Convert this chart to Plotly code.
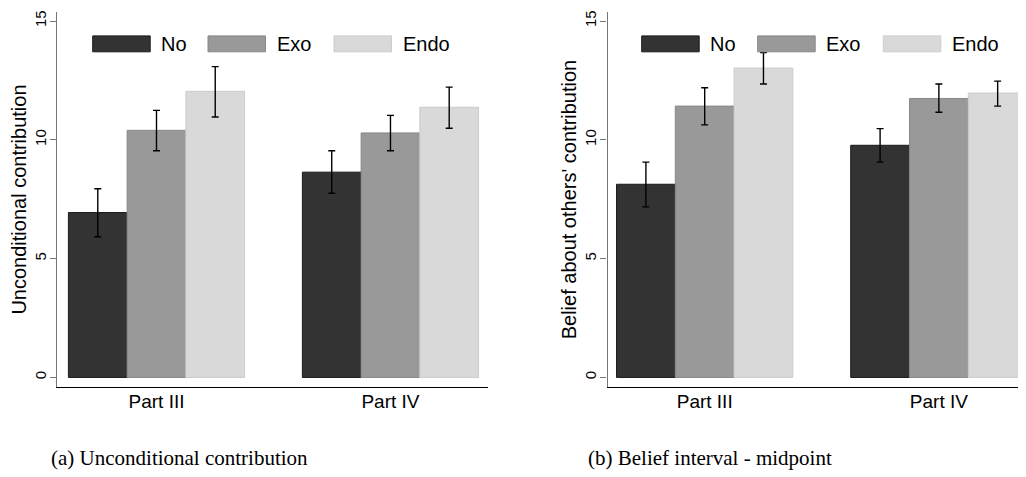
import plotly.graph_objects as go

# The page body has an 8px margin; the figure fills the rest of the window.
OX, OY = 8, 8
W, H = 1026 - OX, 477 - OY

parts = ["Part III", "Part IV"]
series = ["No", "Exo", "Endo"]

# Panel (a): Unconditional contribution
uncond_mean = {"No": [6.94, 8.64], "Exo": [10.40, 10.29], "Endo": [12.04, 11.37]}
uncond_hi = {"No": [7.94, 9.54], "Exo": [11.24, 11.03], "Endo": [13.08, 12.22]}
uncond_lo = {"No": [5.92, 7.75], "Exo": [9.54, 9.54], "Endo": [10.96, 10.49]}

# Panel (b): Belief about others' contribution
belief_mean = {"No": [8.13, 9.77], "Exo": [11.42, 11.74], "Endo": [13.02, 11.97]}
belief_hi = {"No": [9.06, 10.47], "Exo": [12.19, 12.35], "Endo": [13.67, 12.47]}
belief_lo = {"No": [7.18, 9.06], "Exo": [10.63, 11.16], "Endo": [12.35, 11.42]}

yticks = [0, 5, 10, 15]
captions = ["(a) Unconditional contribution", "(b) Belief interval - midpoint"]
ytitles = ["Unconditional contribution", "Belief about others' contribution"]

fills = {"No": "#333333", "Exo": "#999999", "Endo": "#d9d9d9"}
edges = {"No": "#1a1a1a", "Exo": "#888888", "Endo": "#cccccc"}

def px(x):
    return (x - OX) / W

def py(y):
    return 1 - (y - OY) / H

fig = go.Figure()
xpos = list(range(len(parts)))

for idx, (mean, hi, lo) in enumerate([(uncond_mean, uncond_hi, uncond_lo),
                                      (belief_mean, belief_hi, belief_lo)]):
    xa = "x" if idx == 0 else "x2"
    ya = "y" if idx == 0 else "y2"
    for s in series:
        fig.add_trace(go.Bar(
            x=xpos, y=mean[s], name=s, xaxis=xa, yaxis=ya,
            offsetgroup=s,
            marker=dict(color=fills[s], line=dict(color=edges[s], width=1)),
            error_y=dict(type="data", symmetric=False,
                         array=[h - m for h, m in zip(hi[s], mean[s])],
                         arrayminus=[m - l for m, l in zip(mean[s], lo[s])],
                         color="black", thickness=1.4, width=3.5),
            showlegend=False,
        ))

font_sans = "Liberation Sans, Arial, sans-serif"

axis_common_y = dict(
    range=[-0.406, 15.38], tickvals=yticks, ticks="outside", ticklen=6,
    tickcolor="#777777", tickwidth=1, showline=True, linecolor="#777777",
    linewidth=1.3, showgrid=False, zeroline=False, tickangle=-90,
    ticklabelstandoff=-2,
    tickfont=dict(family=font_sans, size=15, color="black"),
    domain=[py(386.7), py(10)],
)
axis_common_x = dict(
    tickvals=xpos, ticktext=parts, ticks="", showline=True, linecolor="black",
    linewidth=1.3, showgrid=False, zeroline=False, ticklabelstandoff=-3,
    tickfont=dict(family=font_sans, size=19, color="black"),
)

fig.update_layout(
    width=W, height=H, autosize=False,
    margin=dict(l=0, r=0, t=0, b=0),
    paper_bgcolor="white", plot_bgcolor="white",
    barmode="group", bargap=0.247, bargroupgap=0,
    font=dict(family=font_sans, color="black"),
    xaxis=dict(axis_common_x, domain=[px(57.3), px(487.8)], range=[-0.424, 1.416], anchor="y"),
    xaxis2=dict(axis_common_x, domain=[px(607.5), 1.0], range=[-0.415, 1.372], anchor="y2"),
    yaxis=dict(axis_common_y, anchor="x",
               title=dict(text=ytitles[0], font=dict(family=font_sans, size=20), standoff=0)),
    yaxis2=dict(axis_common_y, anchor="x2",
                title=dict(text=ytitles[1], font=dict(family=font_sans, size=20), standoff=0)),
)

# Manual legends (large swatches as in the original)
shapes = []
annotations = []
legend_x = [[92.7, 208.0, 334.0], [641.7, 757.7, 883.3]]
sw_w = 57.5
for panel in range(2):
    for i, s in enumerate(series):
        x0 = legend_x[panel][i]
        shapes.append(dict(type="rect", xref="paper", yref="paper",
                           x0=px(x0), x1=px(x0 + sw_w), y0=py(50), y1=py(34),
                           fillcolor=fills[s], line=dict(color=edges[s], width=1)))
        annotations.append(dict(xref="paper", yref="paper", x=px(x0 + sw_w + 9), y=py(42),
                                text=s, showarrow=False, xanchor="left", yanchor="middle",
                                font=dict(family=font_sans, size=20, color="black")))

caption_x = [179, 710]
for cx, cap in zip(caption_x, captions):
    annotations.append(dict(xref="paper", yref="paper", x=px(cx), y=py(458),
                            text=cap, showarrow=False, xanchor="center", yanchor="middle",
                            font=dict(family="Liberation Serif, Times New Roman, serif",
                                      size=21, color="black")))

fig.update_layout(shapes=shapes, annotations=annotations)

fig.write_html("out.html")
